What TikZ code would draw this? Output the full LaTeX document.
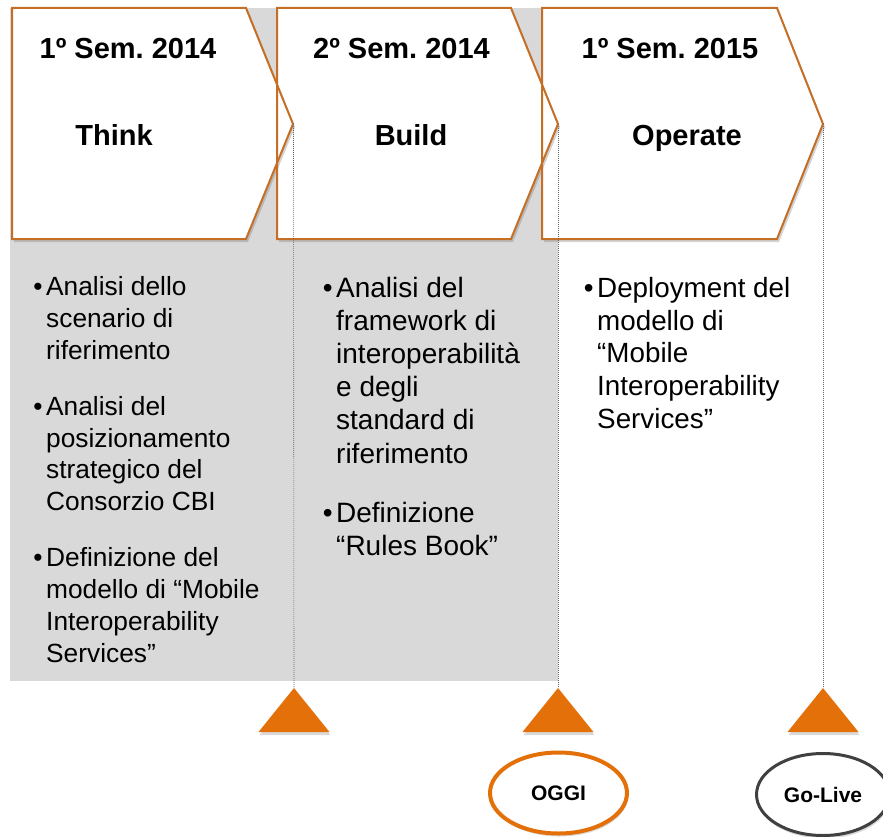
\documentclass[tikz,border=0pt]{standalone}
\usepackage{fontspec}
\setmainfont{Liberation Sans}
\usetikzlibrary{shapes.geometric,shadows}
\definecolor{bggray}{RGB}{217,217,217}
\definecolor{chevline}{RGB}{196,110,38}
\definecolor{orng}{RGB}{228,112,10}
\definecolor{dkgray}{RGB}{64,64,64}
\frenchspacing
\tikzset{
  chevfill/.style={fill=white, drop shadow={shadow xshift=2pt, shadow yshift=-3pt, opacity=0.35}},
  chevedge/.style={draw=chevline, line width=2pt, line join=miter},
  guide/.style={draw=black!60, line width=0.6pt, dash pattern=on 1pt off 1pt},
  marker/.style={fill=orng, drop shadow={shadow xshift=1pt, shadow yshift=-3pt, opacity=0.3}},
  hdr/.style={font=\bfseries\fontsize{29}{35}\selectfont, anchor=base, inner sep=0pt},
  bul/.style={anchor=base west, inner sep=0pt},
  milestone/.style={ellipse, fill=white, inner sep=0pt, font=\bfseries\fontsize{21}{25}\selectfont,
    drop shadow={shadow xshift=1pt, shadow yshift=-3pt, opacity=0.3}}
}
\newcommand\mybul{\leavevmode\llap{•\hspace{3.5pt}}}
\begin{document}
\begin{tikzpicture}[x=1pt,y=-1pt]
\useasboundingbox (0,0) rectangle (883,837);
% grey background panel
\fill[bggray] (10,8) rectangle (558,681);
% chevron fills
\path[chevfill] (542,8) -- (777,8) -- (823,124) -- (777,239) -- (542,239) -- cycle;
\path[chevfill] (277,8) -- (511,8) -- (558,124) -- (511,239) -- (277,239) -- cycle;
\path[chevfill] (12,8) -- (246,8) -- (293,124) -- (246,239) -- (12,239) -- cycle;
% chevron outlines
\draw[chevedge] (542,8) -- (777,8) -- (823,124) -- (777,239) -- (542,239) -- cycle;
\draw[chevedge] (277,8) -- (511,8) -- (558,124) -- (511,239) -- (277,239) -- cycle;
\draw[chevedge] (12,8) -- (246,8) -- (293,124) -- (246,239) -- (12,239) -- cycle;
% tips and apexes
\coordinate (t1) at (293.5,124);
\coordinate (t2) at (558,124);
\coordinate (t3) at (823,124);
\coordinate (ap1) at (294,688);
\coordinate (ap2) at (558,688);
\coordinate (ap3) at (823,688);
% guides
\draw[guide] (t1) -- (ap1);
\draw[guide] (t2) -- (ap2);
\draw[guide] (t3) -- (ap3);
% markers
\path[marker] (ap1) -- ++(-35.5,44) -- ++(71,0) -- cycle;
\path[marker] (ap2) -- ++(-35.5,44) -- ++(71,0) -- cycle;
\path[marker] (ap3) -- ++(-35.5,44) -- ++(71,0) -- cycle;
% headers
\node[hdr] (h1) at (128,58.5) {1º Sem. 2014};
\node[hdr] (h2) at (401.5,58.5) {2º Sem. 2014};
\node[hdr] (h3) at (670,58.5) {1º Sem. 2015};
\node[hdr] (p1) at (114,145.5) {Think};
\node[hdr] (p2) at (411,145.5) {Build};
\node[hdr] (p3) at (687,145.5) {Operate};
% column 1
\node[bul] (c1a) at (46,295) {\parbox[t]{240pt}{\fontsize{26.3}{32}\selectfont\raggedright\mybul Analisi dello\\scenario di\\riferimento}};
\node[bul] (c1b) at (46,415.5) {\parbox[t]{240pt}{\fontsize{26.3}{31.7}\selectfont\raggedright\mybul Analisi del\\posizionamento\\strategico del\\Consorzio CBI}};
\node[bul] (c1c) at (46,566.5) {\parbox[t]{240pt}{\fontsize{26.3}{32}\selectfont\raggedright\mybul Definizione del\\modello di “Mobile\\Interoperability\\Services”}};
% column 2
\node[bul] (c2a) at (336,297) {\parbox[t]{240pt}{\fontsize{28}{33.2}\selectfont\raggedright\mybul Analisi del\\framework di\\interoperabilità\\e degli\\standard di\\riferimento}};
\node[bul] (c2b) at (336,522) {\parbox[t]{240pt}{\fontsize{28}{33.2}\selectfont\raggedright\mybul Definizione\\“Rules Book”}};
% column 3
\node[bul] (c3a) at (597,297.5) {\parbox[t]{260pt}{\fontsize{27.8}{32.7}\selectfont\raggedright\mybul Deployment del\\modello di\\“Mobile\\Interoperability\\Services”}};
% milestones
\node[milestone, draw=orng, line width=4pt, minimum width=137pt, minimum height=81pt] (oggi) at (558.5,793) {OGGI};
\node[milestone, draw=dkgray, line width=3pt, minimum width=133pt, minimum height=82pt] (golive) at (823,794.5) {Go-Live};
\end{tikzpicture}
\end{document}
